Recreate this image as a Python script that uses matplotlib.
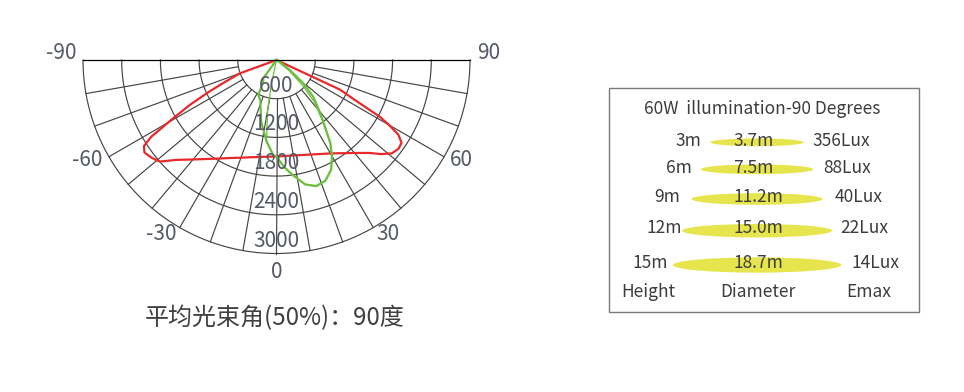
import numpy as np
import matplotlib
matplotlib.use("Agg")
import matplotlib.pyplot as plt
from matplotlib.patches import Rectangle, Ellipse

plt.rcParams['font.family'] = ['Noto Sans CJK SC', 'DejaVu Sans']

# ---------------- data ----------------
red_angles = [-90, -72, -70, -66.2, -64.5, -62.5, -60.5, -58.5, -57, -55, -52, -49,
              -45, -40, -35, -30, -25, -20, -15, -10, -5, 0, 5, 10, 15, 20, 25, 30,
              35, 40, 45, 48, 51, 54, 56.5, 58.5, 60, 61.2, 63, 65, 67, 90]
red_cd = [0, 0, 605, 960, 1200, 1530, 1850, 2280, 2450, 2500, 2460, 2400,
          2190, 2013, 1873, 1763, 1676, 1612, 1561, 1527, 1505, 1496, 1494, 1503,
          1525, 1559, 1608, 1673, 1764, 1882, 2038, 2180, 2300, 2340, 2325, 2215,
          2015, 1830, 1360, 1080, 0, 0]

green_angles = [-90, -45, -36, -31, -27.5, -22, -14, -7, -2, 0, 4, 8, 13, 17.5, 22,
                26.5, 30, 33, 37.5, 41, 45, 49, 53, 57, 60, 90]
green_cd = [0, 0, 350, 400, 612, 670, 985, 1270, 1475, 1500, 1660, 1800, 1980, 2050,
            2020, 1900, 1720, 1530, 1180, 980, 805, 550, 260, 60, 0, 0]

green2_angles = [-14, -12, -10, -7, -2, 0, 4, 8, 13, 17.5, 22, 26.5, 30, 33, 37.5,
                 42, 46, 50, 54]
green2_cd = [0, 370, 790, 1270, 1475, 1500, 1660, 1800, 1980, 2050, 2020, 1900, 1720,
             1530, 1150, 880, 560, 250, 0]

ring_values = [600, 1200, 1800, 2400, 3000]
angle_labels = [-90, -60, -30, 0, 30, 60, 90]
beam_title = "平均光束角(50%)：90度"

table_title = "60W  illumination-90 Degrees"
height_m = [3, 6, 9, 12, 15]
diameter_m = [3.7, 7.5, 11.2, 15.0, 18.7]
emax_lux = [356, 88, 40, 22, 14]
col_heads = ["Height", "Diameter", "Emax"]

# ---------------- figure ----------------
W, H = 964, 392
fig = plt.figure(figsize=(W / 100, H / 100), dpi=100)
fig.patch.set_facecolor('white')

# overlay axes in pixel coordinates for the table box
axb = fig.add_axes([0, 0, 1, 1])
axb.set_xlim(0, W)
axb.set_ylim(H, 0)
axb.axis('off')
axb.patch.set_visible(False)

# polar axes: centre (276.5, 60) px, radius 193.5 px; half-disk sits centred in a square box
cx, cy, R = 276.5, 60.0, 193.5
box_top = cy + R / 2 - R          # px from top
ax = fig.add_axes([(cx - R) / W, (H - (box_top + 2 * R)) / H, 2 * R / W, 2 * R / H],
                  projection='polar')
ax.set_theta_zero_location('S')
ax.set_thetamin(-90)
ax.set_thetamax(90)
ax.set_ylim(0, 3000)
ax.grid(False)
ax.set_xticks([])
ax.set_yticks([])
for s in ax.spines.values():
    s.set_visible(False)
ax.patch.set_visible(False)

gc = '#454545'
glw = 0.85
th = np.radians(np.linspace(-90, 90, 721))
for rv in ring_values:
    ax.plot(th, np.full_like(th, rv), color=gc, lw=glw, clip_on=False, zorder=1)
for a in range(-80, 81, 10):
    ax.plot([np.radians(a)] * 2, [ring_values[0], ring_values[-1]], color=gc, lw=glw,
            clip_on=False, zorder=1)
for a in (-90, 90):
    ax.plot([np.radians(a)] * 2, [0, ring_values[-1]], color=gc, lw=glw, clip_on=False, zorder=1)

ax.plot(np.radians(red_angles), red_cd, color='#e8292b', lw=1.6, clip_on=False, zorder=2,
        solid_joinstyle='round')
ax.plot(np.radians(green2_angles), green2_cd, color='#6cbf3c', lw=0.9, clip_on=False, zorder=2)
ax.plot(np.radians(green_angles), green_cd, color='#6cbf3c', lw=1.6, clip_on=False, zorder=2,
        solid_joinstyle='round')

lab_col = '#555a66'
fs = 15
for rv in ring_values:
    ax.text(0, rv - 200, str(rv), ha='center', va='center', fontsize=fs, color=lab_col, zorder=3)
for a in angle_labels:
    if a == 0:
        ax.text(0, 3110, str(a), ha='center', va='top', fontsize=fs, color=lab_col)
    else:
        ha = 'right' if a < 0 else 'left'
        ang = a + (-2 if a == -90 else 2 if a == 90 else 0)
        ax.text(np.radians(ang), 3110, str(a), ha=ha, va='center', fontsize=fs, color=lab_col)

axb.text(cx - 1.5, 318, beam_title, ha='center', va='center', fontsize=17.3, color='#404040')

# ---------------- table box ----------------
tc = '#3c3c3c'
tfs = 12.5
axb.add_patch(Rectangle((609.3, 88.3), 310, 223.4, fill=False, ec='#7a7a7a', lw=1.0))
axb.text(761.7, 109, table_title, ha='center', va='center', fontsize=tfs, color=tc)

row_text_y = [141, 167.7, 197.3, 228.3, 263.3]
row_ell_y = [142.3, 169.3, 199, 230.7, 265]
height_x = [701.7, 691.7, 680, 681.7, 668.3]
lux_x = [812.7, 823.3, 835, 840, 851.7]
ell_cx = 757
for i in range(len(height_m)):
    d = diameter_m[i]
    w = 75 + 5 * d
    h = 6 + 0.5 * d
    axb.add_patch(Ellipse((ell_cx, row_ell_y[i]), w, h, color='#e6e54e', lw=0))
    axb.text(height_x[i], row_text_y[i], f"{height_m[i]}m", ha='right', va='center',
             fontsize=tfs, color=tc)
    axb.text(733.3, row_text_y[i], f"{d:.1f}m", ha='left', va='center', fontsize=tfs, color=tc)
    axb.text(lux_x[i], row_text_y[i], f"{emax_lux[i]}Lux", ha='left', va='center',
             fontsize=tfs, color=tc)

for x, s in zip([648, 758, 869], col_heads):
    axb.text(x, 291.7, s, ha='center', va='center', fontsize=tfs, color=tc)

fig.savefig('out.png', dpi=100, facecolor='white')
